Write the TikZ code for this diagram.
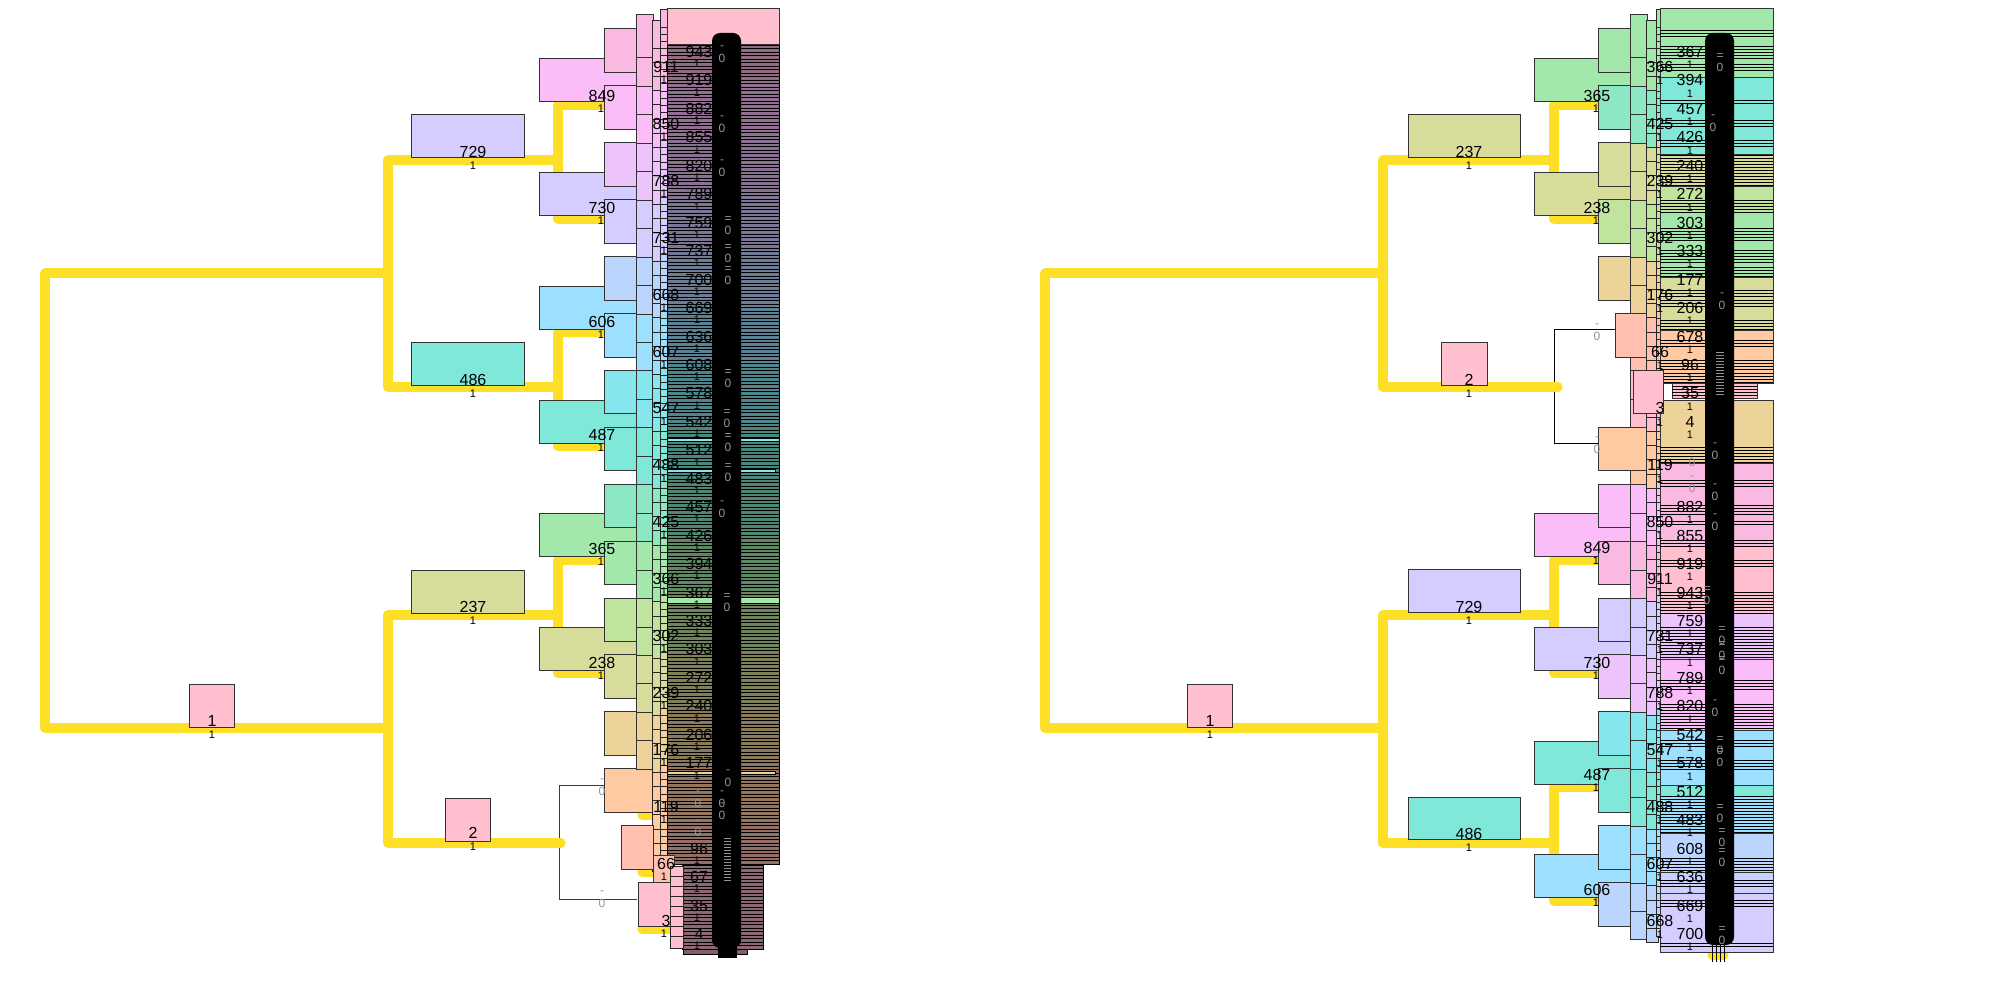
\documentclass[tikz,border=0pt]{standalone}
\usepackage{fontspec}
\setmainfont{Liberation Sans}
\definecolor{yel}{HTML}{FCDF26}
\definecolor{g0}{HTML}{F9B9E0}
\definecolor{g1}{HTML}{FBBDF8}
\definecolor{g2}{HTML}{EDC3FB}
\definecolor{g3}{HTML}{D5CCFF}
\definecolor{g4}{HTML}{BCD5FF}
\definecolor{g5}{HTML}{9CDFFF}
\definecolor{g6}{HTML}{86E6EE}
\definecolor{g7}{HTML}{7FE8D8}
\definecolor{g8}{HTML}{8CE8C4}
\definecolor{g9}{HTML}{A2E8AA}
\definecolor{g10}{HTML}{BEE49E}
\definecolor{g11}{HTML}{D8DC9A}
\definecolor{g12}{HTML}{EDD39A}
\definecolor{g13}{HTML}{FFC9A2}
\definecolor{g14}{HTML}{FFC0B0}
\definecolor{g15}{HTML}{FFBFCF}
\definecolor{purp}{HTML}{4B2C5E}
\colorlet{R0}{g9}\colorlet{R1}{g8}\colorlet{R2}{g11}\colorlet{R3}{g10}
\colorlet{R4}{g12}\colorlet{R5}{g14}\colorlet{R6}{g15}\colorlet{R7}{g13}
\colorlet{R8}{g1}\colorlet{R9}{g0}\colorlet{R10}{g3}\colorlet{R11}{g2}
\colorlet{R12}{g6}\colorlet{R13}{g7}\colorlet{R14}{g5}\colorlet{R15}{g4}
\tikzset{
  bx/.style={draw=black!80, line width=0.5pt},
  tb/.style={draw=black!85, line width=0.4pt},
  yl/.style={draw=yel, line width=4.6pt, line cap=round, line join=round},
  lab/.style={font=\fontsize{8}{8}\selectfont, inner sep=0pt},
  sm/.style={font=\fontsize{5.5}{6}\selectfont, inner sep=0pt},
  zr/.style={font=\fontsize{6}{6}\selectfont, inner sep=0pt, text=black!42},
  st/.style={draw=black, line width=0.35pt},
  eq/.style={draw=black!42, line width=0.3pt},
}
\begin{document}
\begin{tikzpicture}[x=0.5pt,y=-0.5pt]
\useasboundingbox (0,0) rectangle (2000,1000);

%%%%%%%%%%%%%%%% LEFT TREE %%%%%%%%%%%%%%%%
\draw[purp, line width=0.45pt] (604,785) -- (559,785) -- (559,899) -- (637,899);
\draw[yl] (388,273) -- (45,273) -- (45,728) -- (388,728);
\draw[yl] (558,160) -- (388,160) -- (388,387) -- (558,387);
\draw[yl] (558,615) -- (388,615) -- (388,843) -- (561,843);
\foreach \a/\b in {105/219,332/446,560/673}
  \draw[yl] (630,\a) -- (558,\a) -- (558,\b) -- (630,\b);
\foreach \yy in {815,872,929} \draw[yl] (642,\yy) -- (680,\yy);

\filldraw[bx, fill=g15] (189,684) rectangle (234,727);
\filldraw[bx, fill=g3] (411,115) rectangle (524,158);
\filldraw[bx, fill=g7] (411,342) rectangle (524,385);
\filldraw[bx, fill=g11] (411,570) rectangle (524,613);
\filldraw[bx, fill=g15] (445,798) rectangle (490,841);
\foreach \i/\c in {0/g1,1/g3,2/g5,3/g7,4/g9,5/g11}{
  \pgfmathsetmacro\t{59+113.7*\i}
  \filldraw[bx, fill=\c] (539,\t) rectangle (637,\t+43);
}
\foreach \i in {0,...,12}{
  \pgfmathsetmacro\t{29+56.9*\i}
  \filldraw[bx, fill=g\i] (604,\t) rectangle (636,\t+43.5);
}
\filldraw[bx, fill=g13] (604,768.7) rectangle (653,812.2);
\foreach \k in {25,24,...,0}{
  \pgfmathsetmacro\t{15+28.45*\k}
  \pgfmathtruncatemacro\g{\k/2}
  \filldraw[bx, fill=g\g] (636,\t) rectangle (653,\t+43);
}
\foreach \j in {58,57,...,0}{
  \pgfmathsetmacro\t{20+14.2*\j}
  \pgfmathtruncatemacro\g{min(13,max(0,(\t-12)/56.9))}
  \filldraw[tb, fill=g\g] (652,\t) rectangle (664,\t+28);
}
\foreach \j in {120,119,...,0}{
  \pgfmathsetmacro\t{9+7.1*\j}
  \pgfmathtruncatemacro\g{min(13,max(0,(\t-12)/56.9))}
  \filldraw[tb, line width=0.3pt, fill=g\g] (660,\t) rectangle (667,\t+18);
}
% dense block
\filldraw[bx, fill=g15] (667,9) rectangle (779,45);
\foreach \i in {0,...,233}{
  \pgfmathsetmacro\t{45+3.5*\i}
  \pgfmathtruncatemacro\g{min(14,max(0,(\t-22)/56.9))}
  \filldraw[st, line width=0.45pt, fill=g\g!58!black] (667,\t) rectangle (779,\t+3.5);
}
\filldraw[st, fill=g6] (667,438) rectangle (779,441);
\filldraw[st, fill=g6] (667,469) rectangle (775,472);
\filldraw[st, fill=g9] (667,597) rectangle (779,603);
\filldraw[st, fill=g12] (667,771) rectangle (775,774);
\foreach \i in {0,...,23}{
  \pgfmathsetmacro\t{865+3.5*\i}
  \filldraw[st, line width=0.45pt, fill=g15!55!black] (682,\t) rectangle (763,\t+3.5);
}
\filldraw[st, fill=g15!50!black] (683,949) rectangle (747,954);
\filldraw[bx, fill=g14] (653,855) rectangle (674,910);
\foreach \t in {866,876,...,936}
  \filldraw[tb, fill=g15] (670,\t) rectangle (683,\t+12);
\filldraw[bx, fill=g14] (621,825.6) rectangle (653,869.1);
\filldraw[bx, fill=g15] (638,882.5) rectangle (670,926);

% labels
\node[lab] (a1) at (212,721) {1};
\node[sm] (as1) at (212,735) {1};
\foreach \n/\yy in {729/152,486/380,237/607,2/833}{
  \node[lab] (a\n) at (473,\yy) {\n};
  \node[sm] (as\n) at (473,\yy+14) {1};
}
\foreach \n/\yy in {849/96,730/208,606/322,487/435,365/549,238/663}{
  \node[lab] (a\n) at (602,\yy) {\n};
  \node[sm] (as\n) at (601,\yy+13) {1};
}
\foreach \n [count=\i from 0] in {911,850,788,731,668,607,547,488,425,366,302,239,176,119,66,3}{
  \pgfmathsetmacro\yy{67+56.9*\i}
  \node[lab] (b\n) at (666,\yy) {\n};
  \node[sm] (bs\n) at (664,\yy+13) {1};
}
\foreach \k/\n in {0/943,1/919,2/882,3/855,4/820,5/789,6/759,7/737,8/700,9/669,10/636,11/608,12/578,13/542,14/512,15/483,16/457,17/426,18/394,19/367,20/333,21/303,22/272,23/240,24/206,25/177,28/96,29/67,30/35,31/4}{
  \pgfmathsetmacro\yy{52+28.45*\k}
  \node[lab] (c\k) at (699,\yy) {\n};
  \node[sm] (cs\k) at (697,\yy+12) {1};
}
% black label column
\fill[black, rounded corners=4pt] (712,33) rectangle (741,948);
\fill[black] (718,940) rectangle (737,958);
\foreach \xx/\yy/\m [count=\q] in {602/791/-,602/903/-,722/58/-,722/128/-,722/172/-,728/230/=,728/258/=,728/280/=,728/383/=,727/423/=,728/447/=,728/477/=,722/513/-,727/607/=,728/782/-,722/803/-,722/815/-,698/803/-,698/832/-}{
  \node[zr] (zl\q) at (\xx,\yy) {0};
  \node[zr] (zm\q) at (\xx,\yy-10) {\m};
}
\foreach \yy in {838,841,...,880} \draw[eq] (724,\yy) -- (731,\yy);

%%%%%%%%%%%%%%%% RIGHT TREE %%%%%%%%%%%%%%%%
\draw[black, line width=0.45pt] (1615,329) -- (1554,329) -- (1554,443) -- (1598,443);
\draw[yl] (1383,273) -- (1045,273) -- (1045,728) -- (1383,728);
\draw[yl] (1554,160) -- (1383,160) -- (1383,387) -- (1558,387);
\draw[yl] (1554,615) -- (1383,615) -- (1383,843) -- (1554,843);
\foreach \a/\b in {105/219,560/673,787/901}
  \draw[yl] (1625,\a) -- (1554,\a) -- (1554,\b) -- (1625,\b);
\foreach \yy in {359,420} \draw[yl] (1636,\yy) -- (1650,\yy);
\draw[yl] (1712,955) -- (1724,955);

\filldraw[bx, fill=g15] (1187,684) rectangle (1232,727);
\filldraw[bx, fill=g11] (1408,115) rectangle (1520,158);
\filldraw[bx, fill=g15] (1441,342) rectangle (1487,385);
\filldraw[bx, fill=g3] (1408,569) rectangle (1520,612);
\filldraw[bx, fill=g7] (1408,797) rectangle (1520,839);
\foreach \i/\c in {0/g9,1/g11,4/g1,5/g3,6/g7,7/g5}{
  \pgfmathsetmacro\t{59+113.7*\i}
  \filldraw[bx, fill=\c] (1534,\t) rectangle (1631,\t+43);
}
\foreach \i in {0,1,2,3,4,8,9,10,11,12,13,14,15}{
  \pgfmathsetmacro\t{29+56.9*\i}
  \filldraw[bx, fill=R\i] (1598,\t) rectangle (1630,\t+43.5);
}
\foreach \k in {31,30,...,0}{
  \pgfmathsetmacro\t{15+28.45*\k}
  \pgfmathtruncatemacro\g{\k/2}
  \filldraw[bx, fill=R\g] (1630,\t) rectangle (1647,\t+43);
}
\foreach \j in {63,62,...,0}{
  \pgfmathsetmacro\t{20+14.2*\j}
  \pgfmathtruncatemacro\g{min(15,max(0,(\t-12)/56.9))}
  \filldraw[tb, fill=R\g] (1646,\t) rectangle (1658,\t+28);
}
\foreach \j in {128,127,...,0}{
  \pgfmathsetmacro\t{9+7.1*\j}
  \pgfmathtruncatemacro\g{min(15,max(0,(\t-12)/56.9))}
  \filldraw[tb, line width=0.3pt, fill=R\g] (1656,\t) rectangle (1661,\t+18);
}
% dense block right
\foreach \a/\b/\c in {9/31/g9,31/78/g9,78/155/g7,155/187/g11,187/213/g10,213/277/g9,277/330/g11,330/383/g13,400/463/g12,463/546/g0,546/613/g15,613/659/g2,659/730/g1,730/785/g5,785/796/g7,796/833/g5,833/872/g4,872/893/g4!50!g3,893/952/g3}
  \filldraw[bx, fill=\c] (1660,\a) rectangle (1773,\b);
\filldraw[bx, fill=g15] (1672,383) rectangle (1757,398);
\foreach \a/\b in {30/38,46/60,64/70,100/104,120/128,140/146,155/187,200/213,228/240,250/262,267/277,290/296,300/306,320/330,340/346,360/370,373/383,447/463,480/486,505/514,521/526,540/546,560/566,592/613,627/659,680/690,704/730,740/746,760/770,796/833,858/872,880/886,900/906,943/946}{
  \pgfmathsetmacro\c{\a+3}
  \foreach \yy in {\a,\c,...,\b} \draw[st] (1660,\yy) -- (1773,\yy);
}
\foreach \yy in {386,389,...,396} \draw[st] (1672,\yy) -- (1757,\yy);
\filldraw[bx, fill=R5] (1615,313.5) rectangle (1646,357);
\filldraw[bx, fill=R6] (1633,370.3) rectangle (1663,413.8);
\filldraw[bx, fill=R7] (1598,427.3) rectangle (1646,470.8);

% labels right
\node[lab] (r1) at (1210,721) {1};
\node[sm] (rs1) at (1210,735) {1};
\foreach \n/\yy in {237/152,2/380,729/607,486/834}{
  \node[lab] (r\n) at (1469,\yy) {\n};
  \node[sm] (rs\n) at (1469,\yy+14) {1};
}
\foreach \n/\yy in {365/96,238/208,849/548,730/663,487/775,606/890}{
  \node[lab] (r\n) at (1597,\yy) {\n};
  \node[sm] (rs\n) at (1596,\yy+13) {1};
}
\foreach \n [count=\i from 0] in {366,425,239,302,176,66,3,119,850,911,731,788,547,488,607,668}{
  \pgfmathsetmacro\yy{67+56.9*\i}
  \node[lab] (p\n) at (1660,\yy) {\n};
  \node[sm] (ps\n) at (1660,\yy+14) {1};
}
\foreach \k/\n in {0/367,1/394,2/457,3/426,4/240,5/272,6/303,7/333,8/177,9/206,10/678,11/96,12/35,13/4,16/882,17/855,18/919,19/943,20/759,21/737,22/789,23/820,24/542,25/578,26/512,27/483,28/608,29/636,30/669,31/700}{
  \pgfmathsetmacro\yy{52+28.45*\k}
  \node[lab] (q\k) at (1690,\yy) {\n};
  \node[sm] (qs\k) at (1690,\yy+13) {1};
}
\fill[black, rounded corners=4pt] (1705,33) rectangle (1734,945);
\foreach \xx in {1712,1716,1720,1724} \draw[black, line width=0.5pt] (\xx,940) -- (\xx,962);
\foreach \xx/\yy/\m [count=\q] in {1597/336/-,1597/449/-,1720/67/=,1713/127/-,1722/305/-,1692/462/-,1692/488/-,1715/455/-,1715/496/-,1715/526/-,1707/600/=,1722/640/=,1722/655/=,1722/670/=,1715/712/-,1720/750/=,1720/762/=,1720/818/=,1722/842/=,1722/862/=,1722/940/=}{
  \node[zr] (yl\q) at (\xx,\yy) {0};
  \node[zr] (ym\q) at (\xx,\yy-10) {\m};
}
\foreach \yy in {352,355,...,394} \draw[eq] (1716,\yy) -- (1724,\yy);
\end{tikzpicture}
\end{document}
